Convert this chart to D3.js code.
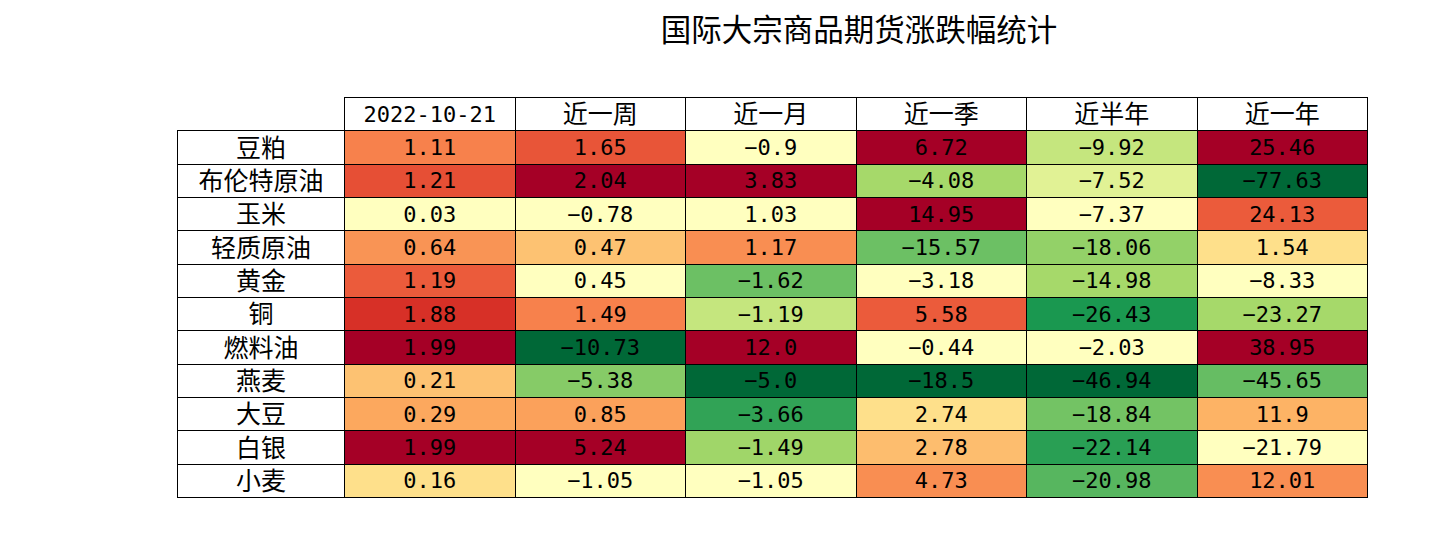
<!DOCTYPE html>
<html>
<head>
<meta charset="utf-8">
<script src="https://cdn.jsdelivr.net/npm/d3@7"></script>
<style>
  html, body { margin: 0; padding: 0; background: #ffffff; }
  svg { display: block; }
</style>
</head>
<body>
<svg id="chart" width="1450" height="550"></svg>
<script>
// ---------------- data ----------------
const title = "国际大宗商品期货涨跌幅统计";
const commodities = ["豆粕","布伦特原油","玉米","轻质原油","黄金","铜","燃料油","燕麦","大豆","白银","小麦"];
const periods = ["2022-10-21","近一周","近一月","近一季","近半年","近一年"];

const chgLatest  = [1.11, 1.21, 0.03, 0.64, 1.19, 1.88, 1.99, 0.21, 0.29, 1.99, 0.16];
const chgWeek    = [1.65, 2.04, -0.78, 0.47, 0.45, 1.49, -10.73, -5.38, 0.85, 5.24, -1.05];
const chgMonth   = [-0.9, 3.83, 1.03, 1.17, -1.62, -1.19, 12.0, -5.0, -3.66, -1.49, -1.05];
const chgQuarter = [6.72, -4.08, 14.95, -15.57, -3.18, 5.58, -0.44, -18.5, 2.74, 2.78, 4.73];
const chgHalf    = [-9.92, -7.52, -7.37, -18.06, -14.98, -26.43, -2.03, -46.94, -18.84, -22.14, -20.98];
const chgYear    = [25.46, -77.63, 24.13, 1.54, -8.33, -23.27, 38.95, -45.65, 11.9, -21.79, 12.01];

// colour level of each cell (0 = strongest fall, 1 = strongest rise)
const lvlLatest  = [0.77, 0.85, 0.50, 0.74, 0.83, 0.90, 1.00, 0.66, 0.71, 1.00, 0.60];
const lvlWeek    = [0.84, 1.00, 0.50, 0.66, 0.50, 0.77, 0.00, 0.25, 0.72, 1.00, 0.50];
const lvlMonth   = [0.50, 1.00, 0.50, 0.75, 0.21, 0.36, 1.00, 0.00, 0.13, 0.29, 0.50];
const lvlQuarter = [1.00, 0.30, 1.00, 0.21, 0.50, 0.83, 0.50, 0.00, 0.60, 0.67, 0.75];
const lvlHalf    = [0.36, 0.42, 0.50, 0.27, 0.30, 0.10, 0.50, 0.00, 0.22, 0.12, 0.18];
const lvlYear    = [1.00, 0.00, 0.83, 0.60, 0.50, 0.30, 1.00, 0.20, 0.69, 0.50, 0.75];

const valueCols = [chgLatest, chgWeek, chgMonth, chgQuarter, chgHalf, chgYear];
const levelCols = [lvlLatest, lvlWeek, lvlMonth, lvlQuarter, lvlHalf, lvlYear];

// ---------------- layout ----------------
const svg = d3.select("#chart");
const labelX0 = 177.5, dataX0 = 344.5, dataX1 = 1367.5;
const tableY0 = 97.5, tableY1 = 497.5;

const xCol = d3.scaleBand().domain(periods).range([dataX0, dataX1]);
const yRow = d3.scaleBand().domain(["__header__", ...commodities]).range([tableY0, tableY1]);

// matplotlib RdYlGn_r stops
const rdylgn = ["#006837","#1a9850","#66bd63","#a6d96a","#d9ef8b","#ffffbf","#fee08b","#fdae61","#f46d43","#d73027","#a50026"];
const color = d3.scaleLinear()
  .domain(d3.range(rdylgn.length).map(i => i / (rdylgn.length - 1)))
  .range(rdylgn)
  .interpolate(d3.interpolateRgb)
  .clamp(true);

const fmt = v => (Number.isInteger(v) ? v.toFixed(1) : String(v)).replace("-", "\u2212");

const cjkFont = "'Noto Sans CJK SC', 'Noto Sans', sans-serif";
const monoFont = "'DejaVu Sans Mono', 'Liberation Mono', monospace";
const cjkSize = 25, monoSize = 22;
const isLatin = s => /^[0-9.\-\u2212 ]+$/.test(s);

function styleText(sel, accessor) {
  sel.style("font-family", d => isLatin(accessor(d)) ? monoFont : cjkFont)
     .style("font-size", d => (isLatin(accessor(d)) ? monoSize : cjkSize) + "px")
     .attr("dy", d => isLatin(accessor(d)) ? monoSize * 0.365 : cjkSize * 0.38)
     .attr("text-anchor", "middle")
     .attr("fill", "#000")
     .text(d => accessor(d));
}

// title
svg.append("text")
  .attr("x", (dataX0 + dataX1) / 2 + 3)
  .attr("y", 29.5)
  .attr("dy", 30.5 * 0.38)
  .attr("text-anchor", "middle")
  .style("font-family", cjkFont)
  .style("font-size", "30.5px")
  .attr("fill", "#000")
  .text(title);

// header cells
const header = svg.append("g").attr("class", "header");
header.selectAll("rect").data(periods).join("rect")
  .attr("x", d => xCol(d))
  .attr("y", yRow("__header__"))
  .attr("width", xCol.bandwidth())
  .attr("height", yRow.bandwidth())
  .attr("fill", "#ffffff")
  .attr("stroke", "#000")
  .attr("stroke-width", 1)
  .attr("shape-rendering", "crispEdges");
header.selectAll("text").data(periods).join("text")
  .attr("x", d => xCol(d) + xCol.bandwidth() / 2)
  .attr("y", yRow("__header__") + yRow.bandwidth() / 2 - 0.5)
  .call(styleText, d => d);

// row label cells
const rowLab = svg.append("g").attr("class", "rowlabels");
rowLab.selectAll("rect").data(commodities).join("rect")
  .attr("x", labelX0)
  .attr("y", d => yRow(d))
  .attr("width", dataX0 - labelX0)
  .attr("height", yRow.bandwidth())
  .attr("fill", "#ffffff")
  .attr("stroke", "#000")
  .attr("stroke-width", 1)
  .attr("shape-rendering", "crispEdges");
rowLab.selectAll("text").data(commodities).join("text")
  .attr("x", (labelX0 + dataX0) / 2)
  .attr("y", d => yRow(d) + yRow.bandwidth() / 2 - 0.5)
  .call(styleText, d => d);

// data cells
const cells = [];
periods.forEach((p, j) => {
  commodities.forEach((c, i) => {
    cells.push({ period: p, commodity: c, value: valueCols[j][i], level: levelCols[j][i] });
  });
});

const body = svg.append("g").attr("class", "body");
body.selectAll("rect").data(cells).join("rect")
  .attr("x", d => xCol(d.period))
  .attr("y", d => yRow(d.commodity))
  .attr("width", xCol.bandwidth())
  .attr("height", yRow.bandwidth())
  .attr("fill", d => color(d.level))
  .attr("stroke", "#000")
  .attr("stroke-width", 1)
  .attr("shape-rendering", "crispEdges");
body.selectAll("text").data(cells).join("text")
  .attr("x", d => xCol(d.period) + xCol.bandwidth() / 2)
  .attr("y", d => yRow(d.commodity) + yRow.bandwidth() / 2 - 0.5)
  .call(styleText, d => fmt(d.value));
</script>
</body>
</html>
